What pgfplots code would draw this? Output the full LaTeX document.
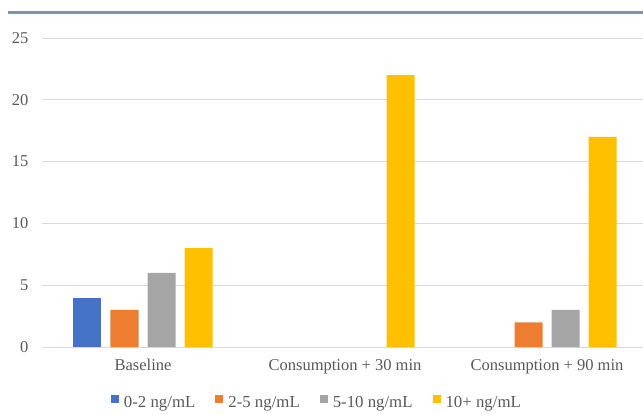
\documentclass[border=0pt]{standalone}
\usepackage{pgfplots}
\pgfplotsset{compat=1.18}
\usepackage{fontspec}
\setmainfont{Liberation Serif}
\definecolor{cblue}{HTML}{4472C4}
\definecolor{corange}{HTML}{ED7D31}
\definecolor{cgray}{HTML}{A5A5A5}
\definecolor{cyellow}{HTML}{FFC000}
\definecolor{txt}{HTML}{595959}
\definecolor{gridc}{HTML}{D9D9D9}
\definecolor{topline}{HTML}{7F96A6}
\begin{document}
\begin{tikzpicture}[x=1pt,y=1pt]
\path[use as bounding box] (0,0) rectangle (643,413);
\draw[topline, line width=2.2pt] (8,400.5) -- (643,400.5);
\begin{axis}[
  at={(42pt,66pt)}, anchor=south west,
  scale only axis, width=606pt, height=309pt,
  ymin=0, ymax=25, xmin=-0.5, xmax=2.5,
  ytick={0,5,10,15,20,25},
  xtick={0,1,2},
  xticklabels={Baseline, Consumption + 30 min, Consumption + 90 min},
  axis line style={draw=none},
  major tick length=0pt,
  ymajorgrids,
  grid style={gridc, line width=1pt},
  ybar=9pt, bar width=28pt,
  tick label style={font=\fontsize{16.5}{19}\selectfont, text=txt},
  /pgf/number format/assume math mode=true,
  yticklabel style={xshift=-10pt},
  xticklabel style={yshift=-9pt},
  legend columns=4,
  legend style={draw=none, fill=none, at={(0.452,-0.178)}, anchor=center,
    font=\fontsize{16.8}{19}\selectfont, text=txt,
    column sep=5pt,
    /tikz/every even column/.append style={column sep=20pt},
    nodes={inner sep=0pt}},
  legend image code/.code={\fill[#1, draw=none] (0pt,-0.5pt) rectangle (8pt,7.5pt);},
]
\addplot[fill=cblue, draw=none] coordinates {(0,4)};
\addplot[fill=corange, draw=none] coordinates {(0,3) (2,2)};
\addplot[fill=cgray, draw=none] coordinates {(0,6) (2,3)};
\addplot[fill=cyellow, draw=none] coordinates {(0,8) (1,22) (2,17)};
\legend{0-2 ng/mL, 2-5 ng/mL, 5-10 ng/mL, 10+ ng/mL}
\end{axis}
\end{tikzpicture}
\end{document}
